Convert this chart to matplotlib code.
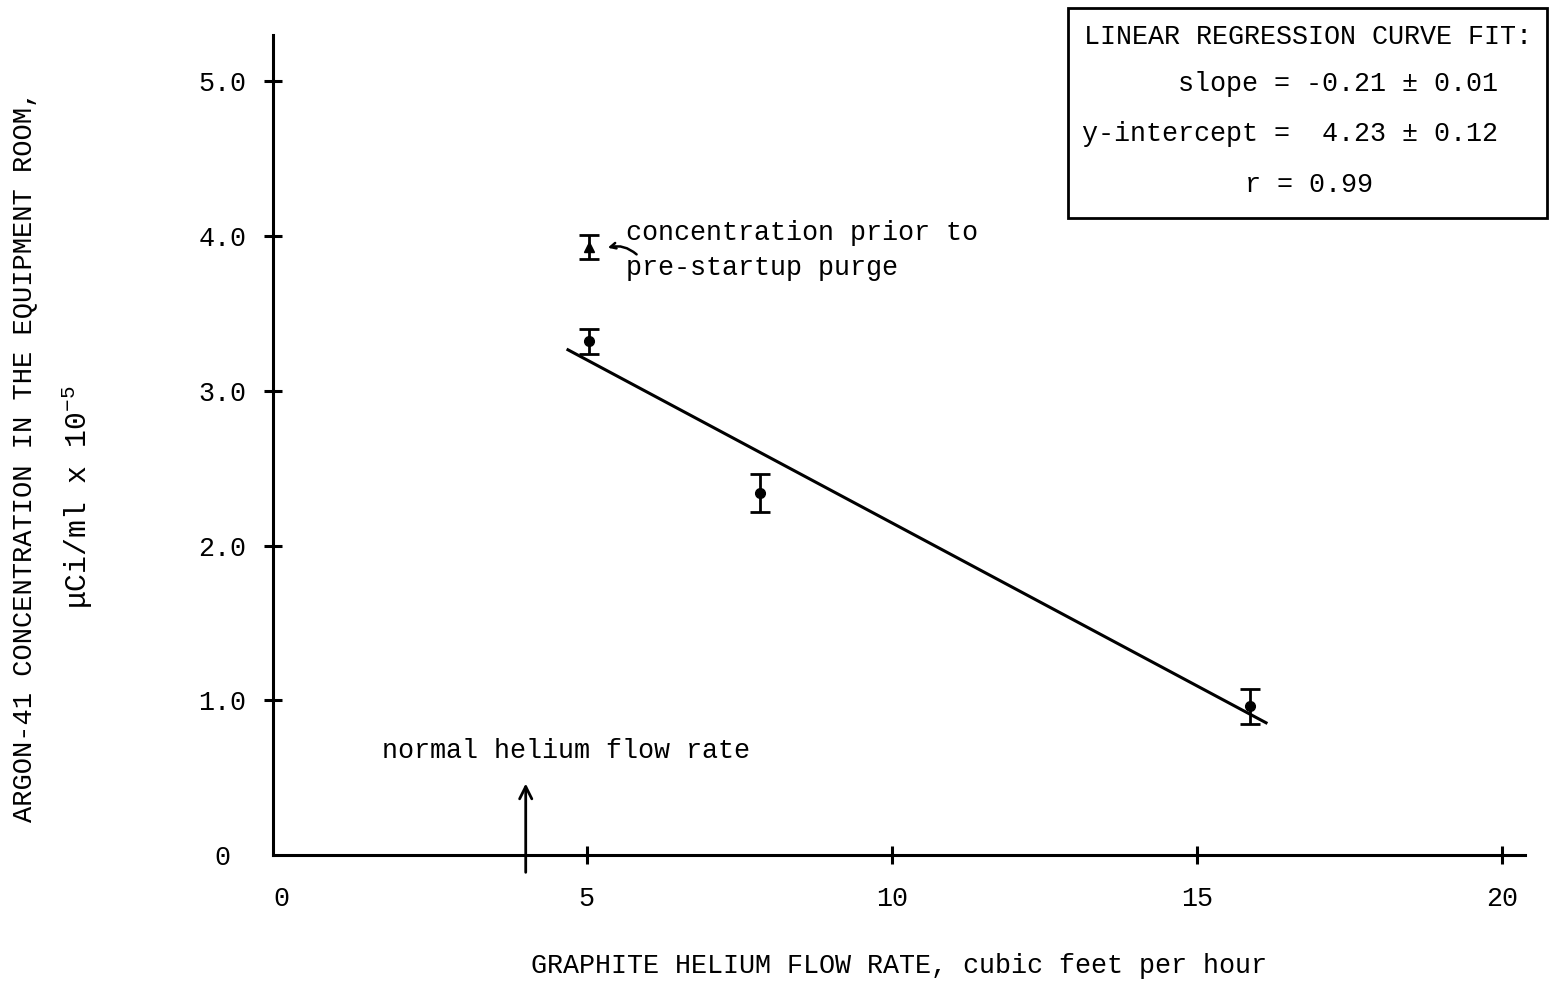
import matplotlib
matplotlib.use('Agg')
import matplotlib.pyplot as plt
from matplotlib.patches import Rectangle

plt.rcParams['font.family'] = ['Liberation Mono', 'DejaVu Sans Mono']
plt.rcParams['mathtext.fontset'] = 'custom'
plt.rcParams['mathtext.rm'] = 'Liberation Mono'
plt.rcParams['mathtext.it'] = 'Liberation Mono'
plt.rcParams['mathtext.tt'] = 'Liberation Mono'

# measured points (flow rate, concentration, error)
flow = [5.04, 7.83, 15.86]
conc = [3.32, 2.34, 0.96]
conc_err = [0.08, 0.12, 0.115]

# point taken before the pre-startup purge
purge_flow = [5.04]
purge_conc = [3.93]
purge_err = [0.08]

# regression line as drawn
fit_x = [4.67, 16.15]
fit_y = [3.27, 0.85]

normal_flow = 4.0

xticks = [0, 5, 10, 15, 20]
xticklabels = ['0', '5', '10', '15', '20']
yticks = [0, 1, 2, 3, 4, 5]
yticklabels = ['0', '1.0', '2.0', '3.0', '4.0', '5.0']

fit_lines = ['LINEAR REGRESSION CURVE FIT:',
             'slope = -0.21 \u00b1 0.01',
             'y-intercept =  4.23 \u00b1 0.12',
             'r = 0.99']

FS = 19.3

fig = plt.figure(figsize=(15.49, 9.82), dpi=100)
ax = fig.add_axes([273 / 1549, 1 - 855 / 982, (1525 - 273) / 1549, (855 - 35) / 982])

ax.plot(fit_x, fit_y, color='black', lw=2.2, solid_capstyle='butt')
ax.errorbar(flow, conc, yerr=conc_err, fmt='o', color='black', ms=7,
            capsize=7, capthick=2, elinewidth=2)
ax.errorbar(purge_flow, purge_conc, yerr=purge_err, fmt='^', color='black', ms=7,
            capsize=7, capthick=2, elinewidth=2)

ax.set_xlim(-0.14, 20.37)
ax.set_ylim(0, 5.3)
for s in ['top', 'right']:
    ax.spines[s].set_visible(False)
for s in ['left', 'bottom']:
    ax.spines[s].set_linewidth(2.2)

ax.set_xticks(xticks)
ax.set_xticklabels(xticklabels, fontsize=FS)
ax.set_yticks(yticks)
ax.set_yticklabels(yticklabels, fontsize=FS, ha='center')
ax.tick_params(axis='both', direction='inout', length=13, width=2.2)
ax.tick_params(axis='x', pad=16)
ax.tick_params(axis='y', pad=30)
# origin has no tick mark of its own, only the label
ax.xaxis.get_major_ticks()[0].tick1line.set_visible(False)
ax.yaxis.get_major_ticks()[0].tick1line.set_visible(False)

# annotations
ax.text(5.65, 3.91, 'concentration prior to\npre-startup purge', fontsize=FS,
        ha='left', va='center', linespacing=1.45)
ax.annotate('', xy=(5.3, 3.92), xytext=(5.85, 3.87),
            arrowprops=dict(arrowstyle='->', lw=1.8, color='black',
                            connectionstyle='arc3,rad=0.3'))
ax.text(1.64, 0.67, 'normal helium flow rate', fontsize=FS, ha='left', va='center')
ax.annotate('', xy=(normal_flow, 0.48), xytext=(normal_flow, -0.13),
            arrowprops=dict(arrowstyle='->', lw=2, color='black',
                            mutation_scale=22),
            annotation_clip=False)

# axis titles
fig.text(899 / 1549, 1 - 966 / 982, 'GRAPHITE HELIUM FLOW RATE, cubic feet per hour',
         fontsize=FS, ha='center', va='center')
fig.text(24 / 1549, 1 - 456 / 982, 'ARGON-41 CONCENTRATION IN THE EQUIPMENT ROOM,',
         fontsize=19.5, ha='center', va='center', rotation=90)
fig.text(77 / 1549, 1 - 497 / 982, '\u03bcCi/ml x 10$^{-5}$',
         fontsize=21.5, ha='center', va='center', rotation=90)

# regression box
fig.patches.append(Rectangle((1068 / 1549, 1 - 218 / 982), (1547 - 1068) / 1549,
                             (218 - 8) / 982, transform=fig.transFigure,
                             fill=False, edgecolor='black', lw=2))
box_x = [1084, 1178, 1082, 1245]
box_y = [37, 84, 134, 185]
for txt, bx, by in zip(fit_lines, box_x, box_y):
    fig.text(bx / 1549, 1 - by / 982, txt, fontsize=FS, ha='left', va='center')

fig.savefig('out.png', dpi=100)
